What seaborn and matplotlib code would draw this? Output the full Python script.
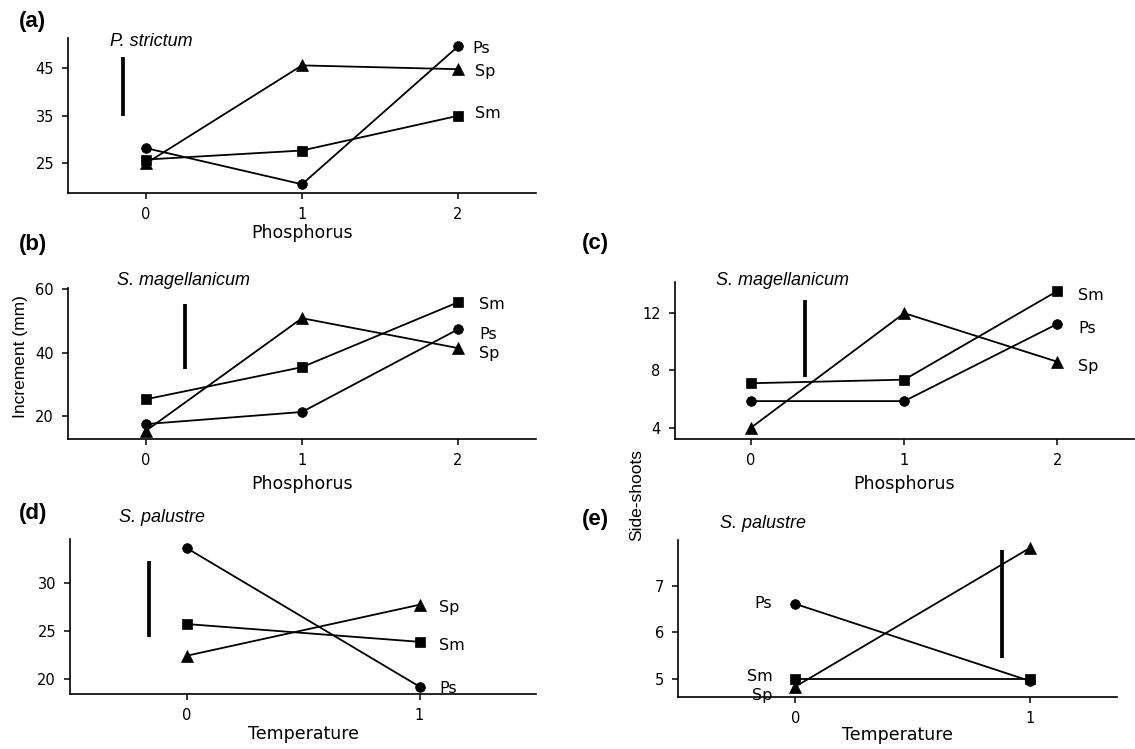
import matplotlib
matplotlib.use("Agg")
import matplotlib.pyplot as plt
import pandas as pd
import seaborn as sns

# ---------------- data ----------------
species = ["Ps", "Sm", "Sp"]
phosphorus = [0, 1, 2]
temperature = [0, 1]

# (a) P. strictum, increment (mm) vs phosphorus
a_Ps = [28.2, 20.6, 49.6]
a_Sm = [25.8, 27.7, 35.0]
a_Sp = [25.0, 45.6, 44.8]
a_bar = [-0.145, 35.0, 47.3]          # x, low, high of the scale bar

# (b) S. magellanicum, increment (mm) vs phosphorus
b_Ps = [17.5, 21.3, 47.3]
b_Sm = [25.3, 35.4, 55.8]
b_Sp = [15.4, 50.8, 41.4]
b_bar = [0.25, 34.8, 55.3]

# (c) S. magellanicum, side-shoots vs phosphorus
c_Ps = [5.85, 5.85, 11.25]
c_Sm = [7.1, 7.35, 13.55]
c_Sp = [4.0, 12.0, 8.6]
c_bar = [0.35, 7.55, 12.93]

# (d) S. palustre, increment (mm) vs temperature
d_Ps = [33.6, 19.2]
d_Sm = [25.7, 23.85]
d_Sp = [22.4, 27.7]
d_bar = [-0.16, 24.3, 32.2]

# (e) S. palustre, side-shoots vs temperature
e_Ps = [6.61, 4.96]
e_Sm = [5.0, 5.0]
e_Sp = [4.84, 7.81]
e_bar = [0.88, 5.46, 7.76]

a_yticks = [25, 35, 45]
b_yticks = [20, 40, 60]
c_yticks = [4, 8, 12]
d_yticks = [20, 25, 30]
e_yticks = [5, 6, 7]

# ---------------- style ----------------
sns.set_theme(style="ticks")
plt.rcParams["font.family"] = ["DejaVu Sans"]
plt.rcParams.update({
    "font.stretch": "normal",
    "axes.linewidth": 1.2,
    "xtick.major.width": 1.1,
    "ytick.major.width": 1.1,
    "xtick.major.size": 4,
    "ytick.major.size": 4,
    "xtick.major.pad": 6,
    "ytick.major.pad": 6,
    "xtick.labelsize": 10.5,
    "ytick.labelsize": 10.5,
    "xtick.color": "black",
    "ytick.color": "black",
    "axes.edgecolor": "black",
    "text.color": "black",
    "axes.labelcolor": "black",
})

W, H = 1135, 749
fig = plt.figure(figsize=(W / 100, H / 100), dpi=100)


def rect(left, right, top, bottom):
    return [left / W, 1 - bottom / H, (right - left) / W, (bottom - top) / H]


markers = {"Ps": "o", "Sm": "s", "Sp": "^"}
msize = {"o": 7.0, "s": 6.5, "^": 8.5}
palette = {s: "black" for s in species}
arial = ["Liberation Sans", "DejaVu Sans"]

panels = [
    dict(letter="(a)", title="P. strictum", vals=(a_Ps, a_Sm, a_Sp), x=phosphorus,
         bar=a_bar, yticks=a_yticks, ylim=(18.7, 51.3), xlim=(-0.5, 2.5),
         rect=rect(68, 536, 38.3, 193.3), xlabel="Phosphorus", lpad=1,
         letter_xy=(19, 22), title_xy=(110, 42),
         lab=dict(Ps=(14, -2), Sp=(17, -2), Sm=(17, 2)), end=-1),
    dict(letter="(b)", title="S. magellanicum", vals=(b_Ps, b_Sm, b_Sp), x=phosphorus,
         bar=b_bar, yticks=b_yticks, ylim=(12.8, 60.3), xlim=(-0.5, 2.5),
         rect=rect(68, 536, 288, 439), xlabel="Phosphorus", lpad=5,
         letter_xy=(19, 245), title_xy=(117, 280),
         lab=dict(Sm=(21, -2), Ps=(21, -5), Sp=(21, -5)), end=-1),
    dict(letter="(c)", title="S. magellanicum", vals=(c_Ps, c_Sm, c_Sp), x=phosphorus,
         bar=c_bar, yticks=c_yticks, ylim=(3.2, 14.2), xlim=(-0.5, 2.5),
         rect=rect(674.6, 1134, 281.7, 439), xlabel="Phosphorus", lpad=5,
         letter_xy=(582, 244), title_xy=(716, 280),
         lab=dict(Sm=(21, -5), Ps=(21, -5), Sp=(21, -5)), end=-1),
    dict(letter="(d)", title="S. palustre", vals=(d_Ps, d_Sm, d_Sp), x=temperature,
         bar=d_bar, yticks=d_yticks, ylim=(18.4, 34.5), xlim=(-0.5, 1.5),
         rect=rect(70, 536, 539.3, 694.3), xlabel="Temperature", lpad=1,
         letter_xy=(19, 514), title_xy=(119, 517),
         lab=dict(Sp=(20, -3), Sm=(20, -4), Ps=(20, -2)), end=-1),
    dict(letter="(e)", title="S. palustre", vals=(e_Ps, e_Sm, e_Sp), x=temperature,
         bar=e_bar, yticks=e_yticks, ylim=(4.61, 7.98), xlim=(-0.5, 1.37),
         rect=rect(678.2, 1116.7, 540, 697.3), xlabel="Temperature", lpad=0,
         letter_xy=(582, 520), title_xy=(720, 523),
         lab=dict(Ps=(-23, 0), Sm=(-23, 3), Sp=(-23, -9)), end=0),
]

for p in panels:
    ax = fig.add_axes(p["rect"])
    rows = []
    for sp, v in zip(species, p["vals"]):
        for xi, yi in zip(p["x"], v):
            rows.append({"level": xi, "value": yi, "species": sp})
    df = pd.DataFrame(rows)
    sns.lineplot(data=df, x="level", y="value", hue="species", style="species",
                 markers=markers, dashes=False, palette=palette, legend=False,
                 errorbar=None, linewidth=1.3, markeredgecolor="black",
                 markeredgewidth=0.5, ax=ax)
    for ln in ax.lines:
        m = ln.get_marker()
        if m in msize:
            ln.set_markersize(msize[m])
    # scale bar
    bx, blo, bhi = p["bar"]
    ax.vlines(bx, blo, bhi, color="black", linewidth=2.7)
    # series labels
    for sp, v in zip(species, p["vals"]):
        dx, dy = p["lab"][sp]
        ax.annotate(sp, (p["x"][p["end"]], v[p["end"]]), xytext=(dx, dy),
                    textcoords="offset pixels", va="center",
                    ha="left" if dx > 0 else "right", fontsize=11.5,
                    annotation_clip=False)
    ax.set_xlim(*p["xlim"])
    ax.set_ylim(*p["ylim"])
    ax.set_xticks(p["x"])
    ax.set_yticks(p["yticks"])
    ax.set_xlabel(p["xlabel"], fontsize=12.5, labelpad=p["lpad"])
    ax.set_ylabel("")
    ax.set_facecolor("none")
    sns.despine(ax=ax)
    fig.text(p["letter_xy"][0] / W, 1 - p["letter_xy"][1] / H, p["letter"],
             fontsize=16, fontweight="bold", family=arial, stretch="normal",
             va="center")
    fig.text(p["title_xy"][0] / W, 1 - p["title_xy"][1] / H, p["title"],
             fontsize=13, style="italic", family=arial, va="center")

fig.text(20 / W, 1 - 357 / H, "Increment (mm)", rotation=90, fontsize=12.5,
         family=arial, va="center", ha="center")
fig.text(637 / W, 1 - 495 / H, "Side-shoots", rotation=90, fontsize=12.5,
         family=arial, va="center", ha="center")

fig.savefig("out.png", dpi=100, facecolor="white")
